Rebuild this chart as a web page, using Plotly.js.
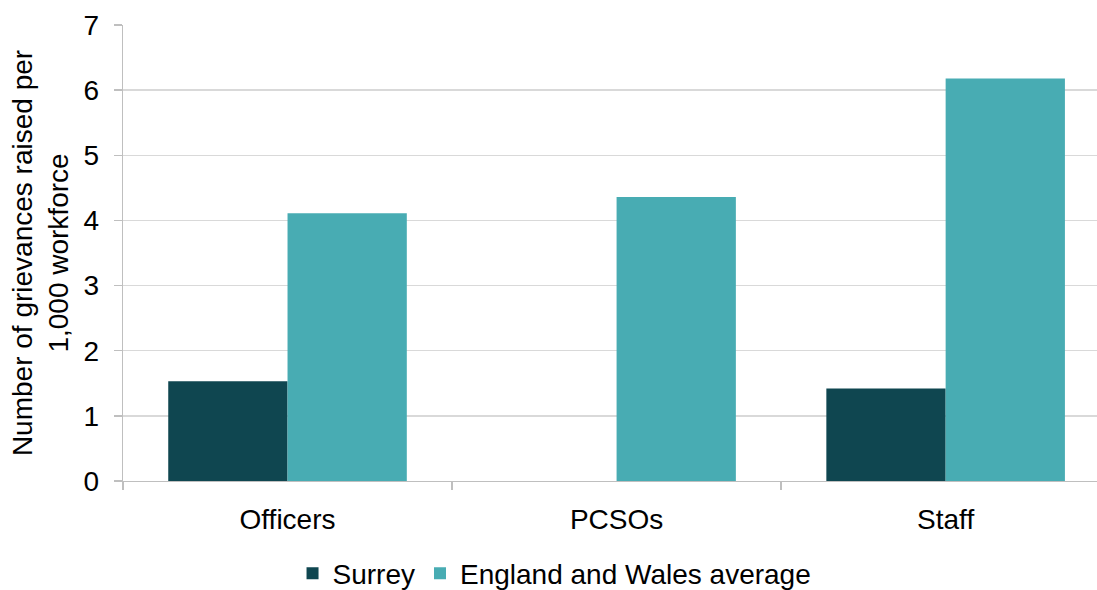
<!DOCTYPE html>
<html>
<head>
<meta charset="utf-8">
<script src="https://cdn.plot.ly/plotly-3.0.1.min.js"></script>
<style>
  html, body { margin: 0; padding: 0; background: #fff; }
  #chart { width: 1097px; height: 590px; }
</style>
</head>
<body>
<div id="chart"></div>
<script>
// Grievances raised per 1,000 workforce, by workforce group
const categories = ["Officers", "PCSOs", "Staff"];
const surreyValues = [1.53, 0, 1.42];
const englandWalesValues = [4.11, 4.36, 6.18];
const seriesNames = ["Surrey", "England and Wales average"];
const yTickValues = [0, 1, 2, 3, 4, 5, 6, 7];

const FONT = "Liberation Sans, Arial, sans-serif";
const SURREY_COLOUR = "#0f4650";
const EW_COLOUR = "#48acb3";

const traces = [
  {
    type: "bar",
    name: seriesNames[0],
    x: categories,
    y: surreyValues,
    marker: { color: SURREY_COLOUR },
    hoverinfo: "x+y+name"
  },
  {
    type: "bar",
    name: seriesNames[1],
    x: categories,
    y: englandWalesValues,
    marker: { color: EW_COLOUR },
    hoverinfo: "x+y+name"
  }
];

const layout = {
  width: 1097,
  height: 590,
  margin: { l: 123, r: 0, t: 25, b: 109, autoexpand: false },
  paper_bgcolor: "#ffffff",
  plot_bgcolor: "#ffffff",
  font: { family: FONT, size: 28, color: "#000000" },
  barmode: "group",
  bargap: 0.275,
  bargroupgap: 0,
  showlegend: true,
  legend: {
    orientation: "h",
    xref: "container",
    x: 0.5055,
    xanchor: "center",
    yref: "container",
    y: 0.028,
    yanchor: "middle",
    font: { family: FONT, size: 28, color: "#000000" },
    itemclick: false,
    itemdoubleclick: false,
    tracegroupgap: 0
  },
  xaxis: {
    type: "category",
    range: [-0.5, 2.46],
    automargin: false,
    tickangle: 0,
    showgrid: false,
    showline: true,
    linecolor: "#bfbfbf",
    linewidth: 1.3,
    ticks: "outside",
    tickson: "boundaries",
    ticklen: 8,
    tickcolor: "#bfbfbf",
    tickwidth: 1.3,
    ticklabelstandoff: 13,
    tickfont: { family: FONT, size: 28, color: "#000000" },
    zeroline: false,
    fixedrange: true
  },
  yaxis: {
    range: [0, 7],
    automargin: false,
    tickvals: yTickValues,
    ticktext: yTickValues.map(String),
    showgrid: true,
    gridcolor: "#d9d9d9",
    gridwidth: 1.3,
    showline: true,
    linecolor: "#bfbfbf",
    linewidth: 1.3,
    ticks: "outside",
    ticklen: 8,
    tickcolor: "#bfbfbf",
    tickwidth: 1.3,
    tickfont: { family: FONT, size: 28, color: "#000000" },
    ticklabelstandoff: 9,
    zeroline: false,
    fixedrange: true,
    title: {
      text: "Number of grievances raised per<br>1,000 workforce",
      font: { family: FONT, size: 28, color: "#000000" },
      standoff: 6
    }
  }
};

Plotly.newPlot("chart", traces, layout, { displayModeBar: false, staticPlot: true });
</script>
</body>
</html>
